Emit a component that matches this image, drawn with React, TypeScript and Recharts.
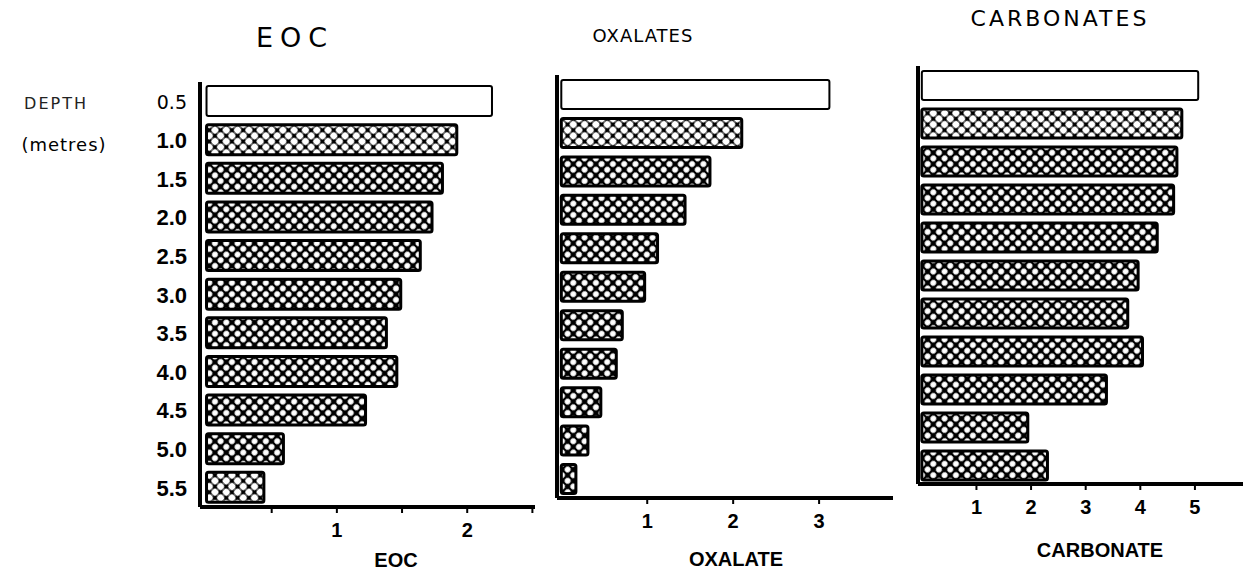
import React from 'react';
import { BarChart, Bar, XAxis, YAxis, Cell } from 'recharts';

// Sampling depths (metres) and measured contents per depth
const depths = ['0.5', '1.0', '1.5', '2.0', '2.5', '3.0', '3.5', '4.0', '4.5', '5.0', '5.5'];
const eocValues = [2.19, 1.92, 1.81, 1.73, 1.64, 1.49, 1.38, 1.46, 1.22, 0.59, 0.44];
const oxalateValues = [3.12, 2.1, 1.73, 1.44, 1.12, 0.97, 0.71, 0.64, 0.46, 0.31, 0.17];
const carbonateValues = [5.06, 4.76, 4.67, 4.61, 4.31, 3.96, 3.77, 4.04, 3.38, 1.94, 2.3];

// Axis ticks (marks) for each panel; only whole numbers get a label
const eocTicks = [0.5, 1, 1.5, 2, 2.5];
const oxalateTicks = [1, 2, 3];
const carbonateTicks = [1, 2, 3, 4, 5];

// Fill style per depth row: open, light mesh or dark mesh
const eocShades = ['open', 'light', 'dark', 'dark', 'dark', 'dark', 'dark', 'dark', 'dark', 'dark', 'light'];
const oxalateShades = ['open', 'light', 'dark', 'dark', 'dark', 'dark', 'dark', 'dark', 'dark', 'dark', 'dark'];
const carbonateShades = ['open', 'light', 'dark', 'dark', 'dark', 'dark', 'dark', 'dark', 'dark', 'dark', 'dark'];

const shadeFill: Record<string, string> = {
  open: '#ffffff',
  light: 'url(#meshLight)',
  dark: 'url(#meshDark)',
};

const toRows = (values: number[]) => depths.map((depth, i) => ({ depth, value: values[i] }));

const BOLD = '"Liberation Sans", Arial, sans-serif';
const HAND = '"DejaVu Sans", Lato, sans-serif';

type PanelProps = {
  values: number[];
  shades: string[];
  ticks: number[];
  domain: [number, number];
  left: number;
  width: number;
  margin: { top: number; right: number; bottom: number; left: number };
  yWidth: number;
  barSize: number;
  showDepths?: boolean;
};

const ValueTick = (props: any) => {
  const { x, y, payload } = props;
  const v = payload.value;
  if (!Number.isInteger(v)) return null;
  return (
    <text x={x} y={y + 22} textAnchor="middle" fontFamily={BOLD} fontWeight={700} fontSize={20} fill="#000">
      {String(v)}
    </text>
  );
};

const DepthTick = (props: any) => {
  const { y, payload, index } = props;
  const first = index === 0;
  return (
    <text
      x={187}
      y={y + 8}
      textAnchor="end"
      fontFamily={first ? HAND : BOLD}
      fontWeight={first ? 400 : 700}
      fontSize={first ? 19 : 22}
      fill="#000"
    >
      {payload.value}
    </text>
  );
};

function Panel(p: PanelProps) {
  const height = 581;
  return (
    <div style={{ position: 'absolute', left: p.left, top: 0 }}>
      <BarChart
        width={p.width}
        height={height}
        layout="vertical"
        data={toRows(p.values)}
        margin={p.margin}
        barSize={p.barSize}
      >
        <XAxis
          type="number"
          dataKey="value"
          domain={p.domain}
          ticks={p.ticks}
          interval={0}
          height={30}
          axisLine={{ stroke: '#000', strokeWidth: 4 }}
          tickLine={{ stroke: '#000', strokeWidth: 2 }}
          tickSize={6}
          tick={<ValueTick />}
        />
        <YAxis
          type="category"
          dataKey="depth"
          width={p.yWidth}
          axisLine={{ stroke: '#000', strokeWidth: 4 }}
          tickLine={false}
          tick={p.showDepths ? <DepthTick /> : false}
          interval={0}
        />
        <Bar dataKey="value" stroke="#000" strokeWidth={3} radius={2} isAnimationActive={false}>
          {p.shades.map((s, i) => (
            <Cell key={i} fill={shadeFill[s]} strokeWidth={s === 'open' ? 2 : 3} />
          ))}
        </Bar>
      </BarChart>
    </div>
  );
}

const Caption = ({ x, y, children, style }: any) => (
  <div
    style={{
      position: 'absolute',
      left: x,
      top: y,
      transform: 'translate(-50%, -50%)',
      whiteSpace: 'nowrap',
      lineHeight: 1,
      color: '#000',
      ...style,
    }}
  >
    {children}
  </div>
);

export default function App() {
  const handTitle = { fontFamily: HAND, fontWeight: 400 };
  const axisTitle = { fontFamily: BOLD, fontWeight: 700, fontSize: 20 };
  return (
    <div style={{ position: 'absolute', left: 0, top: 0, width: 1250, height: 581, background: '#fff', overflow: 'hidden' }}>
      <svg width={0} height={0} style={{ position: 'absolute' }}>
        <defs>
          <pattern id="meshDark" width={8} height={8} patternUnits="userSpaceOnUse" patternTransform="rotate(45)">
            <rect width={8} height={8} fill="#000" />
            <circle cx={4} cy={4} r={2.9} fill="#fff" />
          </pattern>
          <pattern id="meshLight" width={8} height={8} patternUnits="userSpaceOnUse" patternTransform="rotate(45)">
            <rect width={8} height={8} fill="#000" />
            <circle cx={4} cy={4} r={3.5} fill="#fff" />
          </pattern>
        </defs>
      </svg>

      <Panel
        values={eocValues}
        shades={eocShades}
        ticks={eocTicks}
        domain={[-0.05, 2.52]}
        left={0}
        width={545}
        margin={{ top: 82, right: 10, bottom: 44, left: 140 }}
        yWidth={60}
        barSize={30}
        showDepths
      />
      <Panel
        values={oxalateValues}
        shades={oxalateShades}
        ticks={oxalateTicks}
        domain={[-0.05, 3.86]}
        left={545}
        width={360}
        margin={{ top: 75, right: 12, bottom: 53, left: 10 }}
        yWidth={2}
        barSize={29}
      />
      <Panel
        values={carbonateValues}
        shades={carbonateShades}
        ticks={carbonateTicks}
        domain={[-0.07, 5.88]}
        left={905}
        width={345}
        margin={{ top: 66, right: 7, bottom: 67, left: 11 }}
        yWidth={2}
        barSize={29}
      />

      <Caption x={295} y={37} style={{ ...handTitle, fontSize: 27, letterSpacing: 7 }}>EOC</Caption>
      <Caption x={643} y={36} style={{ ...handTitle, fontSize: 18, letterSpacing: 1 }}>OXALATES</Caption>
      <Caption x={1060} y={19} style={{ ...handTitle, fontSize: 22, letterSpacing: 3 }}>CARBONATES</Caption>

      <Caption x={56} y={104} style={{ fontFamily: HAND, fontSize: 16, letterSpacing: 2, color: '#222' }}>DEPTH</Caption>
      <Caption x={64} y={145} style={{ fontFamily: HAND, fontSize: 18, letterSpacing: 1 }}>(metres)</Caption>

      <Caption x={396} y={560} style={axisTitle}>EOC</Caption>
      <Caption x={736} y={559} style={axisTitle}>OXALATE</Caption>
      <Caption x={1100} y={550} style={axisTitle}>CARBONATE</Caption>
    </div>
  );
}
